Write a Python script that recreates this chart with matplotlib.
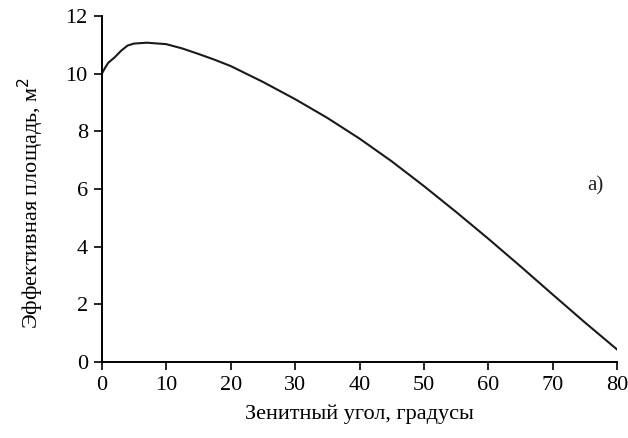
import matplotlib
matplotlib.use("Agg")
import matplotlib.pyplot as plt

# zenith angle (deg) and effective area (m^2)
angle = [0, 0.5, 1, 2, 3, 4, 5, 7, 10, 12.5, 15, 17.5, 20, 25, 30, 35, 40,
         45, 50, 55, 60, 65, 70, 75, 80]
area = [10.0, 10.2, 10.38, 10.57, 10.8, 10.98, 11.05, 11.08, 11.03, 10.88,
        10.69, 10.49, 10.27, 9.72, 9.12, 8.47, 7.75, 6.96, 6.1, 5.2, 4.27,
        3.31, 2.33, 1.36, 0.42]

xticks = [0, 10, 20, 30, 40, 50, 60, 70, 80]
yticks = [0, 2, 4, 6, 8, 10, 12]

plt.rcParams["font.family"] = ["Liberation Serif", "DejaVu Serif"]

fig = plt.figure(figsize=(6.28, 4.38), dpi=100)
ax = fig.add_axes([0.162, 0.174, 0.821, 0.789])

ax.plot(angle, area, color="#1a1a1a", linewidth=1.5)

ax.set_xlim(0, 80)
ax.set_ylim(0, 12)
ax.set_xticks(xticks)
ax.set_yticks(yticks)
ax.spines["top"].set_visible(False)
ax.spines["right"].set_visible(False)
ax.spines["left"].set_linewidth(1.4)
ax.spines["bottom"].set_linewidth(1.4)
ax.tick_params(direction="out", length=6, width=1.2, labelsize=16, colors="black", pad=4)

ax.set_xlabel("Зенитный угол, градусы", fontsize=16, labelpad=7)
ax.set_ylabel("Эффективная площадь, м$^2$", fontsize=16)
ax.yaxis.set_label_coords(-0.108, 0.46)

ax.text(76.6, 6.1, "а)", fontsize=15, ha="center", va="center", color="#222222")

fig.savefig("out.png", dpi=100)
